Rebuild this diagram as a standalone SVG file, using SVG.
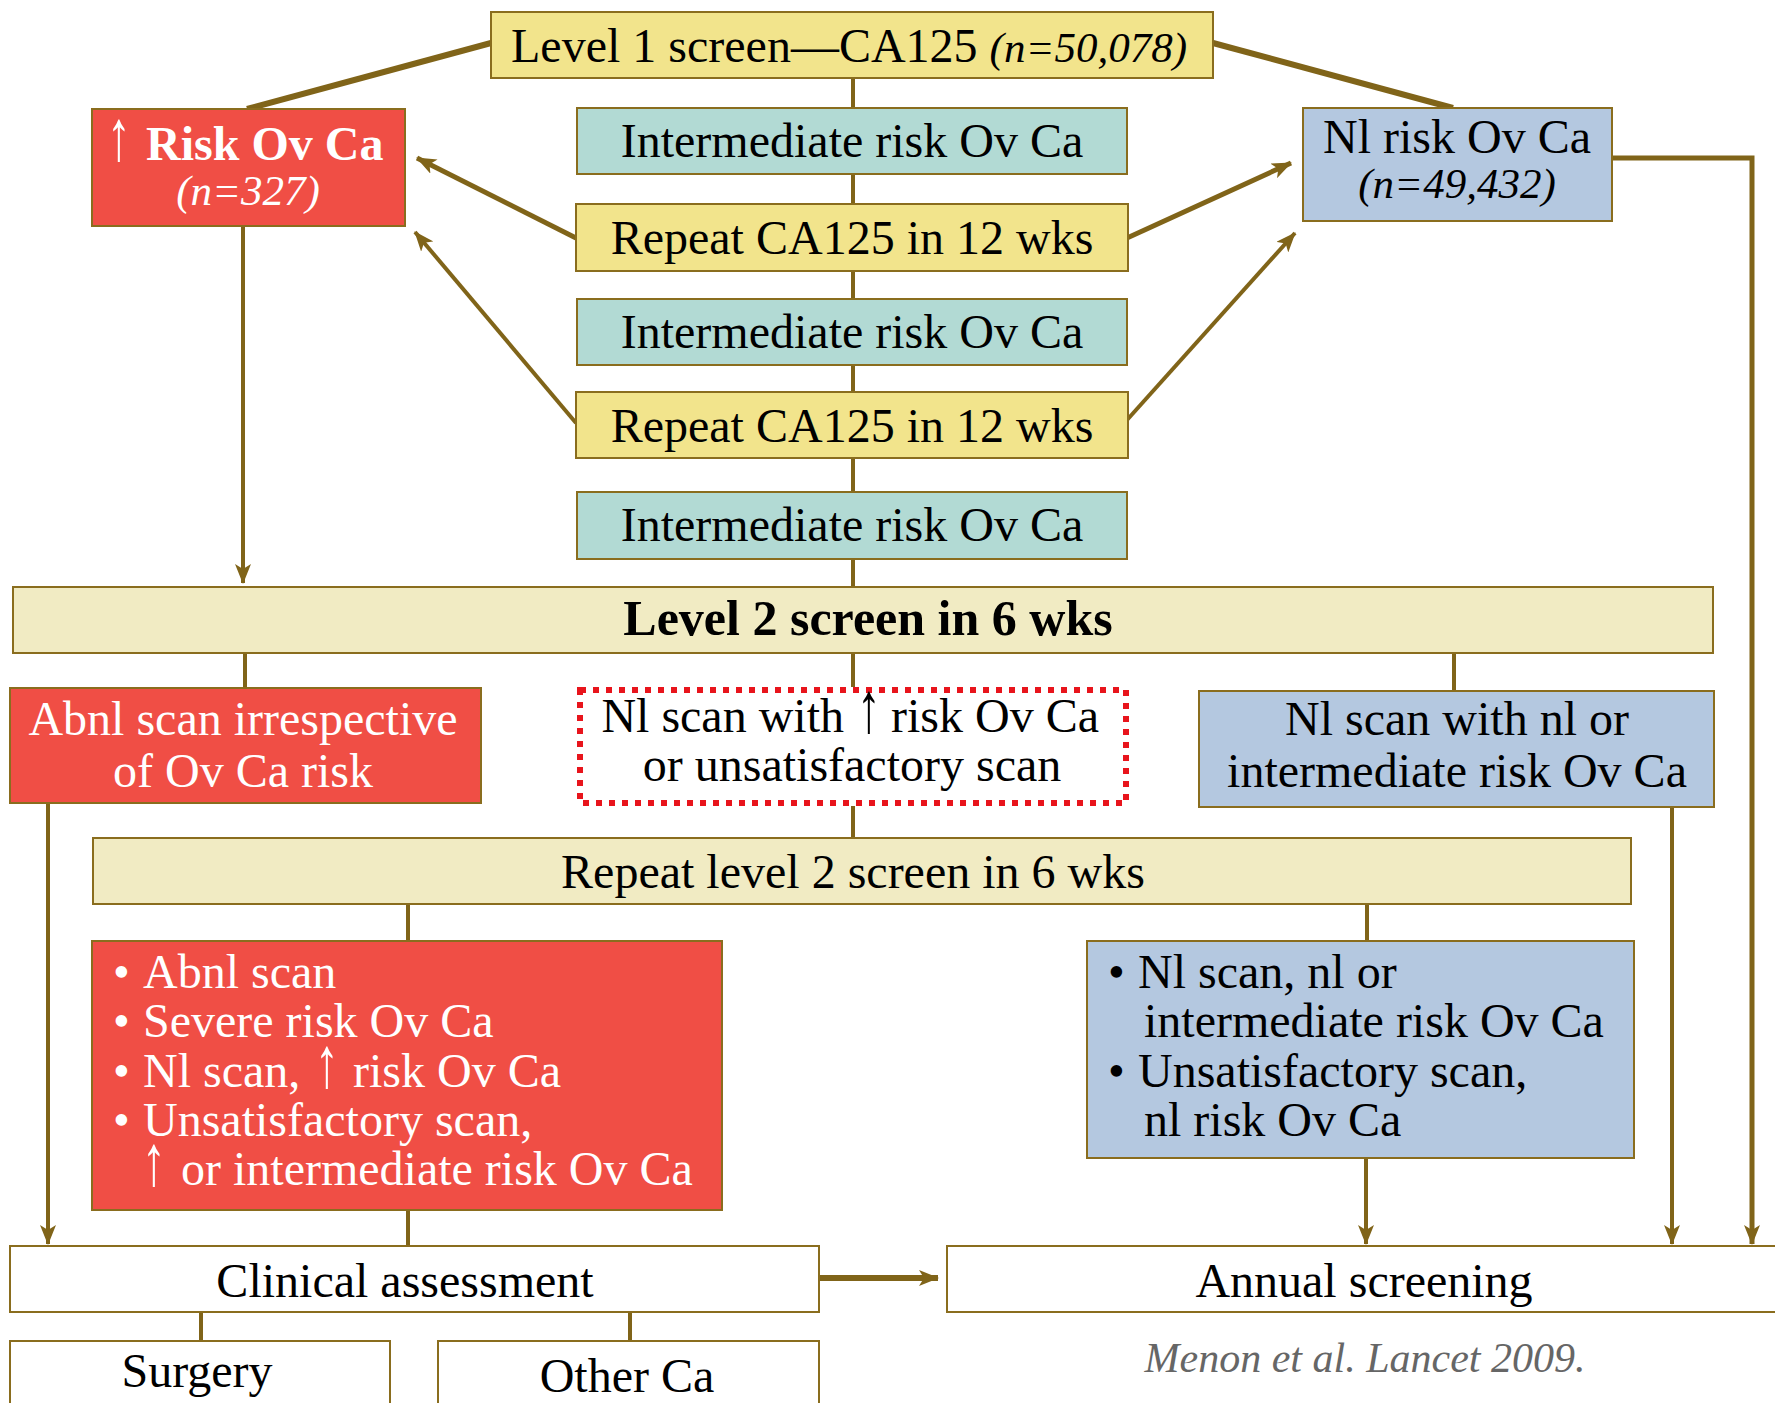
<svg xmlns="http://www.w3.org/2000/svg" width="1775" height="1403" viewBox="0 0 1775 1403">
<defs>
<marker id="ah" markerUnits="userSpaceOnUse" markerWidth="20" markerHeight="16" viewBox="0 0 20 16" refX="19" refY="8" orient="auto">
<path d="M0,0 L20,8 L0,16 L5,8 z" fill="#806419"/>
</marker>
<style>
.bx{stroke:#8A6D1E;stroke-width:2}
.yel{fill:#F2E48C}
.teal{fill:#B2DAD4}
.red{fill:#F04E45}
.blue{fill:#B4C8E0}
.pale{fill:#F1EBC3}
.wh{fill:#FFFFFF}
.ln{stroke:#806419;stroke-width:4;fill:none}
.lt{stroke:#806419;stroke-width:6;fill:none}
.arr{marker-end:url(#ah)}
text{font-family:"Liberation Serif","Times New Roman",serif;font-size:48px;fill:#000}
.c{text-anchor:middle}
.e{text-anchor:end}
.w{fill:#FFFFFF}
.it{font-style:italic;font-size:43px}
.b{font-weight:bold}
.up{font-weight:normal;text-anchor:middle}
</style>
</defs>
<rect width="1775" height="1403" fill="#FFFFFF"/>

<g id="connectors">
<line class="lt" x1="491" y1="43" x2="247" y2="109"/>
<line class="lt" x1="1213" y1="43" x2="1453" y2="108"/>
<line class="ln" x1="853" y1="78" x2="853" y2="108"/>
<line class="ln" x1="853" y1="174" x2="853" y2="204"/>
<line class="ln" x1="853" y1="271" x2="853" y2="299"/>
<line class="ln" x1="853" y1="365" x2="853" y2="392"/>
<line class="ln" x1="853" y1="458" x2="853" y2="492"/>
<line class="ln" x1="853" y1="559" x2="853" y2="587"/>
<line class="ln arr" style="stroke-width:5" x1="576" y1="238" x2="417" y2="158"/>
<line class="ln arr" x1="576" y1="423" x2="415" y2="232"/>
<line class="ln arr" style="stroke-width:5" x1="1127" y1="238" x2="1291" y2="163"/>
<line class="ln arr" x1="1127" y1="420" x2="1295" y2="233"/>
<line class="ln arr" x1="243" y1="226" x2="243" y2="583"/>
<polyline class="ln arr" style="stroke-width:5" points="1612,158 1752,158 1752,1244"/>
<line class="ln" x1="245" y1="653" x2="245" y2="688"/>
<line class="ln" x1="853" y1="653" x2="853" y2="687"/>
<line class="ln" x1="1454" y1="653" x2="1454" y2="691"/>
<line class="ln arr" x1="48" y1="803" x2="48" y2="1244"/>
<line class="ln" x1="853" y1="806" x2="853" y2="838"/>
<line class="ln" x1="408" y1="904" x2="408" y2="941"/>
<line class="ln" x1="1367" y1="904" x2="1367" y2="941"/>
<line class="ln arr" x1="1672" y1="807" x2="1672" y2="1244"/>
<line class="ln arr" x1="1366" y1="1158" x2="1366" y2="1244"/>
<line class="ln" x1="408" y1="1210" x2="408" y2="1246"/>
<line class="lt arr" x1="819" y1="1278" x2="938" y2="1278"/>
<line class="ln" x1="201" y1="1312" x2="201" y2="1341"/>
<line class="ln" x1="630" y1="1312" x2="630" y2="1341"/>
</g>

<g id="level1">
<rect class="bx yel" x="491" y="12" width="722" height="66"/>
<text x="849" y="62" class="c">Level 1 screen—CA125 <tspan class="it">(n=50,078)</tspan></text>
</g>

<g id="risk-high">
<rect class="bx red" x="92" y="109" width="313" height="117"/>
<text class="w up" transform="translate(119,160) scale(1,1.5)">↑</text>
<text x="146" y="160" class="w b">Risk Ov Ca</text>
<text x="248" y="205" class="c w it">(n=327)</text>
</g>

<g id="risk-normal">
<rect class="bx blue" x="1303" y="108" width="309" height="113"/>
<text x="1457" y="153" class="c">Nl risk Ov Ca</text>
<text x="1457" y="198" class="c it">(n=49,432)</text>
</g>

<g id="intermediate1">
<rect class="bx teal" x="577" y="108" width="550" height="66"/>
<text x="852" y="157" class="c">Intermediate risk Ov Ca</text>
</g>

<g id="repeat1">
<rect class="bx yel" x="576" y="204" width="552" height="67"/>
<text x="852" y="254" class="c">Repeat CA125 in 12 wks</text>
</g>

<g id="intermediate2">
<rect class="bx teal" x="577" y="299" width="550" height="66"/>
<text x="852" y="348" class="c">Intermediate risk Ov Ca</text>
</g>

<g id="repeat2">
<rect class="bx yel" x="576" y="392" width="552" height="66"/>
<text x="852" y="442" class="c">Repeat CA125 in 12 wks</text>
</g>

<g id="intermediate3">
<rect class="bx teal" x="577" y="492" width="550" height="67"/>
<text x="852" y="541" class="c">Intermediate risk Ov Ca</text>
</g>

<g id="level2">
<rect class="bx pale" x="13" y="587" width="1700" height="66"/>
<text x="868" y="635" class="c b" style="font-size:50px">Level 2 screen in 6 wks</text>
</g>

<g id="abnl-scan">
<rect class="bx red" x="10" y="688" width="471" height="115"/>
<text x="243" y="735" class="c w">Abnl scan irrespective</text>
<text x="243" y="787" class="c w">of Ov Ca risk</text>
</g>

<g id="nl-scan-raised">
<rect x="580" y="690" width="546" height="113" fill="#FFFFFF" stroke="#E8141C" stroke-width="6" stroke-dasharray="6 7"/>
<text x="844" y="732" class="e">Nl scan with</text>
<text class="up" transform="translate(869,732) scale(1,1.5)">↑</text>
<text x="891" y="732">risk Ov Ca</text>
<text x="852" y="781" class="c">or unsatisfactory scan</text>
</g>

<g id="nl-scan-normal">
<rect class="bx blue" x="1199" y="691" width="515" height="116"/>
<text x="1457" y="735" class="c">Nl scan with nl or</text>
<text x="1457" y="787" class="c">intermediate risk Ov Ca</text>
</g>

<g id="repeat-level2">
<rect class="bx pale" x="93" y="838" width="1538" height="66"/>
<text x="853" y="888" class="c">Repeat level 2 screen in 6 wks</text>
</g>

<g id="red-outcomes">
<rect class="bx red" x="92" y="941" width="630" height="269"/>
<text class="w"><tspan x="113" y="988">•</tspan><tspan x="143" y="988">Abnl scan</tspan></text>
<text class="w"><tspan x="113" y="1037">•</tspan><tspan x="143" y="1037">Severe risk Ov Ca</tspan></text>
<text class="w"><tspan x="113" y="1087">•</tspan><tspan x="143" y="1087">Nl scan,</tspan></text>
<text class="w up" transform="translate(327,1087) scale(1,1.5)">↑</text>
<text class="w" x="353" y="1087">risk Ov Ca</text>
<text class="w"><tspan x="113" y="1136">•</tspan><tspan x="143" y="1136">Unsatisfactory scan,</tspan></text>
<text class="w up" transform="translate(154,1185) scale(1,1.5)">↑</text>
<text class="w" x="181" y="1185">or intermediate risk Ov Ca</text>
</g>

<g id="blue-outcomes">
<rect class="bx blue" x="1087" y="941" width="547" height="217"/>
<text><tspan x="1108" y="988">•</tspan><tspan x="1138" y="988">Nl scan, nl or</tspan></text>
<text><tspan x="1144" y="1037">intermediate risk Ov Ca</tspan></text>
<text><tspan x="1108" y="1087">•</tspan><tspan x="1138" y="1087">Unsatisfactory scan,</tspan></text>
<text><tspan x="1144" y="1136">nl risk Ov Ca</tspan></text>
</g>

<g id="clinical">
<rect class="bx wh" x="10" y="1246" width="809" height="66"/>
<text x="405" y="1297" class="c">Clinical assessment</text>
</g>

<g id="annual">
<rect class="bx wh" x="947" y="1246" width="840" height="66"/>
<text x="1364" y="1297" class="c">Annual screening</text>
</g>

<g id="surgery">
<rect class="bx wh" x="10" y="1341" width="380" height="80"/>
<text x="197" y="1387" class="c">Surgery</text>
</g>

<g id="other-ca">
<rect class="bx wh" x="438" y="1341" width="381" height="80"/>
<text x="627" y="1392" class="c">Other Ca</text>
</g>

<text x="1365" y="1372" class="c" style="font-style:italic;font-size:42px;fill:#666666">Menon et al. Lancet 2009.</text>
</svg>
